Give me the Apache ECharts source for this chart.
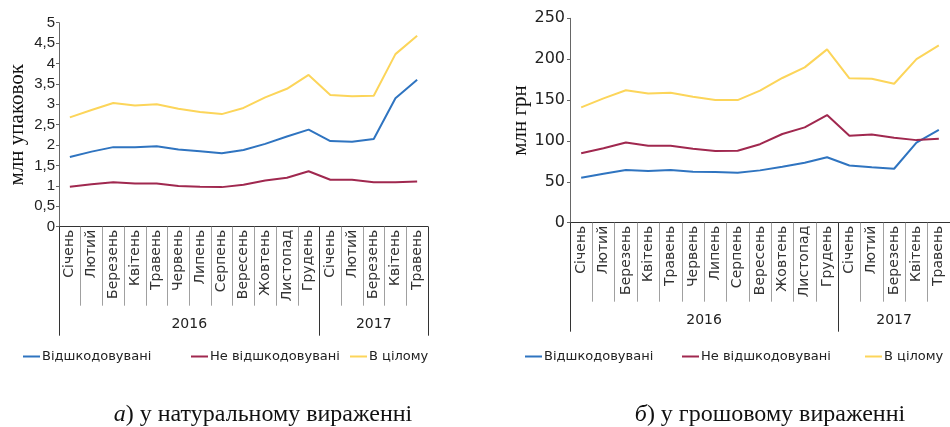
<!DOCTYPE html>
<html><head><meta charset="utf-8">
<script src="https://cdn.jsdelivr.net/npm/echarts@6/dist/echarts.min.js"></script>
<style>html,body{margin:0;padding:0;background:#fff}#c{width:950px;height:427px}</style>
</head><body><div id="c"></div>
<script>
const months = ['Січень','Лютий','Березень','Квітень','Травень','Червень','Липень','Серпень','Вересень','Жовтень','Листопад','Грудень','Січень','Лютий','Березень','Квітень','Травень'];
const years = ['2016','2017'];
const seriesNames = ['Відшкодовувані','Не відшкодовувані','В цілому'];
const leftBlue   = [1.71,1.84,1.95,1.95,1.97,1.89,1.85,1.80,1.88,2.03,2.21,2.38,2.10,2.08,2.15,3.15,3.60];
const leftRed    = [0.98,1.04,1.09,1.06,1.06,1.00,0.98,0.97,1.03,1.13,1.20,1.36,1.15,1.15,1.09,1.09,1.11];
const leftYellow = [2.68,2.86,3.03,2.97,3.00,2.89,2.81,2.76,2.91,3.17,3.38,3.72,3.23,3.20,3.21,4.23,4.68];
const rightBlue   = [55,60,64.4,63.2,64.4,62.4,62,61.2,64,68.5,73.4,80,70,67.7,66,98,113.4];
const rightRed    = [85,91,98,94,94,90.5,87.7,88,96,108.5,116.6,131.7,106.4,108,104,101,102.8];
const rightYellow = [141,152,162,158,159,154,150,150,161.5,177,190,212,176.6,176,170,200,217];
const captions = [['а', ') у натуральному вираженні'], ['б', ') у грошовому вираженні']];

const colors = ['#2f74c0', '#a0284f', '#fcd55a'];
const sans = 'DejaVu Sans';
const serif = 'Liberation Serif';

function monthAxis(gridIndex) {
  return {
    type: 'category', gridIndex, data: months, boundaryGap: true,
    axisLine: {lineStyle: {color: '#333', width: 1}},
    axisTick: {show: true, interval: 0, length: 79, lineStyle: {color: '#a0a0a0', width: 1}},
    axisLabel: {interval: 0, rotate: 90, margin: 3, fontFamily: sans, fontSize: 14, color: '#333'}
  };
}
function yearAxis(gridIndex) {
  return {
    type: 'value', gridIndex, min: 0, max: 17, position: 'bottom',
    axisLine: {show: false}, splitLine: {show: false},
    axisTick: {show: true, customValues: [0, 12, 17], length: 109, lineStyle: {color: '#333', width: 1}},
    axisLabel: {customValues: [6, 14.5], margin: 91, fontFamily: sans, fontSize: 14, color: '#222',
      formatter: v => v < 12 ? years[0] : years[1]}
  };
}
function line(name, data, xi, yi, ci) {
  return {type: 'line', name, data, xAxisIndex: xi, yAxisIndex: yi, showSymbol: false, symbol: 'none',
    lineStyle: {color: colors[ci], width: 2}, itemStyle: {color: colors[ci]}, animation: false};
}
function legendItem(left, idx) {
  return {left, top: 350, padding: 0, data: [seriesNames[idx]], icon: 'rect', itemWidth: 17, itemHeight: 2,
    textStyle: {fontFamily: sans, fontSize: 13, color: '#222', padding: [0, 0, 0, -3]}};
}

const chart = echarts.init(document.getElementById('c'), null, {renderer: 'canvas'});
const capStyle = {fontFamily: serif, fontSize: 24, fontWeight: 'normal', color: '#111',
  rich: {i: {fontFamily: serif, fontSize: 24, fontStyle: 'italic', color: '#111'}}};
chart.setOption({
  animation: false,
  grid: [
    {left: 59, top: 22.7, width: 369, height: 204},
    {left: 570, top: 18.3, width: 381, height: 204.4}
  ],
  xAxis: [monthAxis(0), yearAxis(0), monthAxis(1), yearAxis(1)],
  yAxis: [
    {type: 'value', gridIndex: 0, min: 0, max: 5, interval: 0.5,
      name: 'млн упаковок', nameLocation: 'middle', nameGap: 31,
      nameTextStyle: {fontFamily: serif, fontSize: 21, color: '#111'},
      axisLine: {show: true, lineStyle: {color: '#666'}},
      axisTick: {show: true, length: 3, lineStyle: {color: '#666'}},
      splitLine: {show: false},
      axisLabel: {margin: 4, fontFamily: 'Liberation Sans', fontSize: 15, color: '#222',
        formatter: v => String(v).replace('.', ',')}},
    {type: 'value', gridIndex: 1, min: 0, max: 250, interval: 50,
      name: 'млн грн', nameLocation: 'middle', nameGap: 37,
      nameTextStyle: {fontFamily: serif, fontSize: 21, color: '#111'},
      axisLine: {show: true, lineStyle: {color: '#666'}},
      axisTick: {show: true, length: 3, lineStyle: {color: '#666'}},
      splitLine: {show: false},
      axisLabel: {margin: 5, fontFamily: sans, fontSize: 16, color: '#222'}}
  ],
  legend: [
    legendItem(23, 0), legendItem(191, 1), legendItem(350, 2),
    legendItem(525, 0), legendItem(682, 1), legendItem(865, 2)
  ],
  series: [
    line(seriesNames[0], leftBlue, 0, 0, 0),
    line(seriesNames[1], leftRed, 0, 0, 1),
    line(seriesNames[2], leftYellow, 0, 0, 2),
    line(seriesNames[0], rightBlue, 2, 1, 0),
    line(seriesNames[1], rightRed, 2, 1, 1),
    line(seriesNames[2], rightYellow, 2, 1, 2)
  ],
  title: [
    {left: 258, top: 398, textAlign: 'center', text: '{i|' + captions[0][0] + '}' + captions[0][1], textStyle: capStyle},
    {left: 765, top: 398, textAlign: 'center', text: '{i|' + captions[1][0] + '}' + captions[1][1], textStyle: capStyle}
  ]
});
</script></body></html>
